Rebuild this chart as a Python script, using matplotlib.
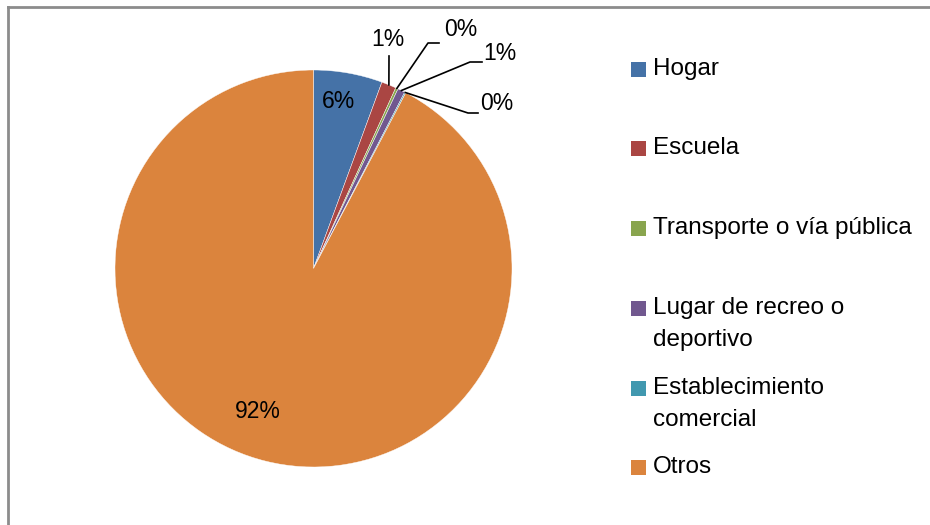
import matplotlib
matplotlib.use("Agg")
import matplotlib.pyplot as plt
from matplotlib.patches import Rectangle
from matplotlib.lines import Line2D
import numpy as np

categories = ["Hogar", "Escuela", "Transporte o vía pública",
              "Lugar de recreo o deportivo", "Establecimiento comercial", "Otros"]
legend_labels = ["Hogar", "Escuela", "Transporte o vía pública",
                 "Lugar de recreo o\ndeportivo", "Establecimiento\ncomercial", "Otros"]
values = [5.6, 1.2, 0.2, 0.6, 0.1, 92.3]
pct_labels = ["6%", "1%", "0%", "1%", "0%", "92%"]
colors = ["#4572A7", "#AA4643", "#89A54E", "#71588F", "#4198AF", "#DB843D"]

W, H = 930, 525
plt.rcParams['font.family'] = ['Liberation Sans', 'DejaVu Sans']
fig = plt.figure(figsize=(W / 100, H / 100), dpi=100)
ax = fig.add_axes([0, 0, 1, 1])

def P(px, py):
    return (px, H - py)

cx, cy = P(313.5, 268.5)
R = 198.5
wedges, _ = ax.pie(values, colors=colors, startangle=90, counterclock=False,
                   center=(cx, cy), radius=R, frame=True,
                   wedgeprops=dict(edgecolor="white", linewidth=0.3))
ax.set_xlim(0, W)
ax.set_ylim(0, H)
ax.set_aspect("equal")
ax.axis("off")

fs_pct = 16.5
fs_leg = 17.5
# inside labels
ax.text(*P(338, 101), pct_labels[0], fontsize=fs_pct, ha="center", va="center")
ax.text(*P(258, 412), pct_labels[5], fontsize=fs_pct, ha="center", va="center")

# outside labels with leader lines
def edge_point(i):
    w = wedges[i]
    ang = np.deg2rad((w.theta1 + w.theta2) / 2)
    return (cx + R * np.cos(ang), cy + R * np.sin(ang))

outs = {
    1: dict(elbow=P(389, 56), end=P(389, 56), text=P(388, 40)),
    2: dict(elbow=P(428, 43), end=P(439, 43), text=P(461, 29)),
    3: dict(elbow=P(470, 62), end=P(482, 62), text=P(500, 53)),
    4: dict(elbow=P(468, 113), end=P(478, 113), text=P(497, 103)),
}
for i, o in outs.items():
    x0, y0 = edge_point(i)
    ax.add_line(Line2D([x0, o["elbow"][0], o["end"][0]],
                       [y0, o["elbow"][1], o["end"][1]],
                       color="black", linewidth=1.2))
    ax.text(*o["text"], pct_labels[i], fontsize=fs_pct, ha="center", va="center")

# legend
rows_y = [69, 148, 228, 308, 388, 467]
for lab, col, yy in zip(legend_labels, colors, rows_y):
    ax.add_patch(Rectangle(P(631, yy + 7.5), 15, 15, facecolor=col, edgecolor="none"))
    if "\n" in lab:
        l1, l2 = lab.split("\n")
        ax.text(*P(653, yy), l1, fontsize=fs_leg, ha="left", va="center")
        ax.text(*P(653, yy + 32), l2, fontsize=fs_leg, ha="left", va="center")
    else:
        ax.text(*P(653, yy), lab, fontsize=fs_leg, ha="left", va="center")

# border
ax.add_line(Line2D([8, W], [H - 7, H - 7], color="#8c8c8c", linewidth=2))
ax.add_line(Line2D([8, 8], [0, H - 7], color="#8c8c8c", linewidth=2))

fig.savefig("out.png", dpi=100)
